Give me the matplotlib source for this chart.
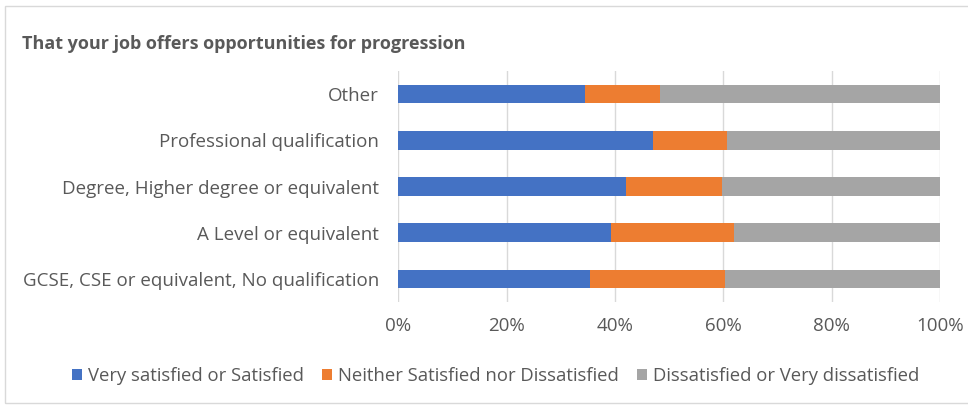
import matplotlib.pyplot as plt
from matplotlib.patches import Rectangle

categories = ['GCSE, CSE or equivalent, No qualification', 'A Level or equivalent',
              'Degree, Higher degree or equivalent', 'Professional qualification', 'Other']
satisfied = [35.4, 39.3, 42.0, 47.0, 34.5]
neither = [24.9, 22.7, 17.7, 13.6, 13.8]
dissatisfied = [39.7, 38.0, 40.3, 39.4, 51.7]
series_names = ['Very satisfied or Satisfied', 'Neither Satisfied nor Dissatisfied',
                'Dissatisfied or Very dissatisfied']
colors = ['#4472C4', '#ED7D31', '#A5A5A5']
text_color = '#595959'

plt.rcParams['font.family'] = ['Open Sans', 'DejaVu Sans']

fig = plt.figure(figsize=(9.68, 4.09), dpi=100)
ax = fig.add_axes([0.4115, 0.2616, 0.5596, 0.5648])

left = [0] * len(categories)
for vals, name, c in zip([satisfied, neither, dissatisfied], series_names, colors):
    ax.barh(categories, vals, left=left, height=0.4, color=c, label=name, zorder=3)
    left = [l + v for l, v in zip(left, vals)]

ax.set_xlim(0, 100)
ax.set_ylim(-0.5, 4.5)
ax.set_xticks(range(0, 101, 20))
ax.set_xticklabels([f'{t}%' for t in range(0, 101, 20)])
ax.grid(axis='x', color='#D9D9D9', linewidth=1, zorder=0)
for s in ax.spines.values():
    s.set_visible(False)
ax.tick_params(length=0, labelsize=13.5, labelcolor=text_color)
ax.tick_params(axis='x', pad=11)
ax.tick_params(axis='y', pad=14)

fig.text(0.023, 0.88, 'That your job offers opportunities for progression',
         fontsize=13, fontweight='bold', color=text_color, va='baseline')

leg = fig.legend(loc='center', bbox_to_anchor=(0.512, 0.081), ncol=3, frameon=False,
                 fontsize=13.3, handlelength=0.55, handleheight=0.55,
                 handletextpad=0.3, columnspacing=1.0)
for t in leg.get_texts():
    t.set_color(text_color)

fig.patches.append(Rectangle((0.005, 0.015), 1.0, 0.97, transform=fig.transFigure,
                             fill=False, edgecolor='#D9D9D9', linewidth=1))

fig.savefig('out.png', dpi=100)
